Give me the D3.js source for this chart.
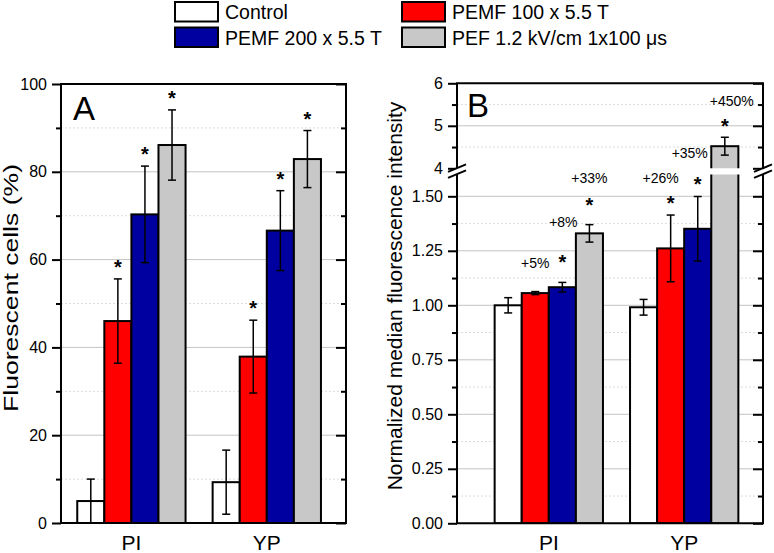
<!DOCTYPE html>
<html><head><meta charset="utf-8">
<script src="https://cdn.jsdelivr.net/npm/d3@7"></script>
<style>body{margin:0;background:#fff} svg{display:block} text{font-family:"Liberation Sans",Arial,sans-serif;fill:#000}</style>
</head><body><svg id="c" width="774" height="553"></svg>
<script>
// ---------------- data ----------------
const categories = ["PI", "YP"];
const seriesNames = ["Control", "PEMF 100 x 5.5 T", "PEMF 200 x 5.5 T", "PEF 1.2 kV/cm 1x100 μs"];
// Panel A: fluorescent cells (%)
const cellsPI = [5.0, 46.0, 70.3, 86.1];
const cellsPIErr = [5.0, 9.6, 11.0, 8.0];
const cellsYP = [9.3, 37.9, 66.6, 82.9];
const cellsYPErr = [7.3, 8.3, 9.1, 6.5];
const cellsStar = [[false, true, true, true], [false, true, true, true]];
// Panel B: normalized median fluorescence intensity
const mfiPI = [1.000, 1.056, 1.083, 1.330];
const mfiPIErr = [0.035, 0.007, 0.022, 0.040];
const mfiYP = [0.991, 1.261, 1.351, 4.52];
const mfiYPErr = [0.036, 0.153, 0.148, 0.21];
const mfiStar = [[false, false, true, true], [false, true, true, true]];
const mfiPct = [["", "+5%", "+8%", "+33%"], ["", "+26%", "+35%", "+450%"]];
// ticks
const yTicksA = [0, 20, 40, 60, 80, 100];
const yMinorA = [10, 30, 50, 70, 90];
const yTicksBLow = [0, 0.25, 0.5, 0.75, 1.0, 1.25, 1.5];
const yMinorBLow = [0.125, 0.375, 0.625, 0.875, 1.125, 1.375];
const yTicksBHigh = [4, 5, 6];
const yMinorBHigh = [4.5, 5.5];

// ---------------- style ----------------
const colors = ["#ffffff", "#ff0000", "#0000a0", "#c8c8c8"];
const gridMajor = "#c4c4c4", gridMinor = "#dcdcdc";
const svg = d3.select("#c");
const FONT_TICK = 16, FONT_TITLE = 21, FONT_STAR = 20, FONT_PCT = 14;

// ---------------- scales ----------------
const A = {left: 61, right: 346, top: 84, bottom: 523};
const B = {left: 457, right: 763, top: 83.3, bottom: 523.3, lowTop: 174.5, highBottom: 168.3};
const xA = d3.scaleLinear().domain([-0.52, 1.585]).range([A.left, A.right]);
const xB = d3.scaleLinear().domain([-0.678, 1.582]).range([B.left, B.right]);
const yA = d3.scaleLinear().domain([0, 100]).range([A.bottom, A.top]);
const yBL = d3.scaleLinear().domain([0, 1.6]).range([B.bottom, B.lowTop]);
const yBH = d3.scaleLinear().domain([4, 6]).range([B.highBottom, B.top]);
const barW = 0.2; // category units

function barX(x, g, i) { return x(g + (i - 2) * barW); }
function barPx(x) { return x(barW) - x(0); }

// ---------------- helpers ----------------
function grid(g, x0, x1, y, major, minor) {
  g.selectAll(null).data(minor).enter().append("line")
    .attr("x1", x0).attr("x2", x1).attr("y1", d => y(d)).attr("y2", d => y(d))
    .attr("stroke", gridMinor).attr("stroke-width", 1).attr("stroke-dasharray", "2,2");
  g.selectAll(null).data(major).enter().append("line")
    .attr("x1", x0).attr("x2", x1).attr("y1", d => y(d)).attr("y2", d => y(d))
    .attr("stroke", gridMajor).attr("stroke-width", 1);
}
function axes(g, x0, x1, y, major, minor, fmt) {
  const la = g.append("g").attr("transform", `translate(${x0},0)`)
    .call(d3.axisLeft(y).tickValues(major).tickFormat(fmt).tickSize(9).tickPadding(5));
  la.select(".domain").remove();
  la.selectAll("line").attr("stroke-width", 2);
  la.selectAll("text").attr("font-size", FONT_TICK).attr("font-family", '"Liberation Sans",Arial,sans-serif');
  const lm = g.append("g").attr("transform", `translate(${x0},0)`)
    .call(d3.axisLeft(y).tickValues(minor).tickFormat("").tickSize(5));
  lm.select(".domain").remove(); lm.selectAll("line").attr("stroke-width", 2);
  const ra = g.append("g").attr("transform", `translate(${x1},0)`)
    .call(d3.axisRight(y).tickValues(major).tickFormat("").tickSize(-10));
  ra.select(".domain").remove(); ra.selectAll("line").attr("stroke-width", 2);
  const rm = g.append("g").attr("transform", `translate(${x1},0)`)
    .call(d3.axisRight(y).tickValues(minor).tickFormat("").tickSize(-5));
  rm.select(".domain").remove(); rm.selectAll("line").attr("stroke-width", 2);
}
function errBar(g, cx, y0, y1) {
  g.append("line").attr("x1", cx).attr("x2", cx).attr("y1", y0).attr("y2", y1).attr("stroke", "#000").attr("stroke-width", 1.5);
  [y0, y1].forEach(yy => g.append("line").attr("x1", cx - 4).attr("x2", cx + 4).attr("y1", yy).attr("y2", yy).attr("stroke", "#000").attr("stroke-width", 1.5));
}
function star(g, cx, cy) {
  g.append("text").attr("x", cx).attr("y", cy + 0.58 * FONT_STAR).attr("text-anchor", "middle")
    .attr("font-size", FONT_STAR).attr("font-weight", "bold").text("*");
}

// ---------------- Panel A ----------------
const gA = svg.append("g");
grid(gA, A.left, A.right, yA, yTicksA.filter(d => d > 0 && d < 100), yMinorA);
const cellsVals = [cellsPI, cellsYP], cellsErrs = [cellsPIErr, cellsYPErr];
categories.forEach((c, g) => {
  const bw = barPx(xA);
  gA.selectAll(null).data(cellsVals[g]).enter().append("rect")
    .attr("x", (d, i) => barX(xA, g, i)).attr("width", bw)
    .attr("y", d => yA(d)).attr("height", d => yA(0) - yA(d))
    .attr("fill", (d, i) => colors[i]).attr("stroke", "#000").attr("stroke-width", 2);
  cellsVals[g].forEach((v, i) => {
    const cx = barX(xA, g, i) + bw / 2, e = cellsErrs[g][i];
    errBar(gA, cx, yA(v + e), yA(v - e));
    if (cellsStar[g][i]) star(gA, cx, yA(v + e) - 16.5);
  });
});
gA.append("rect").attr("x", A.left).attr("y", A.top).attr("width", A.right - A.left).attr("height", A.bottom - A.top)
  .attr("fill", "none").attr("stroke", "#000").attr("stroke-width", 2);
axes(gA, A.left, A.right, yA, yTicksA, yMinorA, d3.format("d"));
gA.append("text").attr("x", 73).attr("y", 120).attr("font-size", 33).text("A");
gA.append("text").attr("transform", `translate(18,288) rotate(-90)`).attr("text-anchor", "middle")
  .attr("font-size", FONT_TITLE).attr("textLength", 248).attr("lengthAdjust", "spacingAndGlyphs")
  .text("Fluorescent cells (%)");
categories.forEach((c, g) => gA.append("text").attr("x", xA(g)).attr("y", 550).attr("text-anchor", "middle")
  .attr("font-size", FONT_TITLE).text(c));

// ---------------- Panel B ----------------
const gB = svg.append("g");
const defs = svg.append("defs");
defs.append("clipPath").attr("id", "clipLow").append("rect")
  .attr("x", B.left).attr("y", B.lowTop).attr("width", B.right - B.left).attr("height", B.bottom - B.lowTop);
defs.append("clipPath").attr("id", "clipHigh").append("rect")
  .attr("x", B.left).attr("y", B.top).attr("width", B.right - B.left).attr("height", B.highBottom - B.top);
grid(gB, B.left, B.right, yBL, yTicksBLow.filter(d => d > 0), yMinorBLow);
grid(gB, B.left, B.right, yBH, [5], yMinorBHigh);
const mfiVals = [mfiPI, mfiYP], mfiErrs = [mfiPIErr, mfiYPErr];
const lowG = gB.append("g").attr("clip-path", "url(#clipLow)");
const highG = gB.append("g").attr("clip-path", "url(#clipHigh)");
const bwB = barPx(xB);
categories.forEach((c, g) => {
  mfiVals[g].forEach((v, i) => {
    const x = barX(xB, g, i);
    const yTop = v > 1.6 ? yBL(1.6) - 5 : yBL(v);
    lowG.append("rect").attr("x", x).attr("width", bwB).attr("y", yTop).attr("height", yBL(0) - yTop)
      .attr("fill", colors[i]).attr("stroke", "#000").attr("stroke-width", 2);
    if (v > 4) {
      highG.append("rect").attr("x", x).attr("width", bwB).attr("y", yBH(v)).attr("height", yBH(4) - yBH(v) + 5)
        .attr("fill", colors[i]).attr("stroke", "#000").attr("stroke-width", 2);
    }
  });
});
// error bars, stars and percentages
const pctLayout = [[null, {dx: 0, dy: -24}, {dx: 1, dy: -55.5}, {dx: 0, dy: -41.5}],
                   [null, {dx: -10, dy: -32}, {dx: -8, dy: -39}, {dx: 7, dy: -31.5}]];
const starLayout = [[0, 0, -25.4, -24.3], [0, -16.7, -16.7, -15.7]];
categories.forEach((c, g) => {
  mfiVals[g].forEach((v, i) => {
    const cx = barX(xB, g, i) + bwB / 2, e = mfiErrs[g][i];
    const ys = v > 4 ? yBH : yBL;
    errBar(gB, cx, ys(v + e), ys(v - e));
    const top = ys(v + e);
    if (mfiStar[g][i]) star(gB, cx, top + starLayout[g][i]);
    if (mfiPct[g][i]) {
      const L = pctLayout[g][i];
      gB.append("text").attr("x", cx + L.dx).attr("y", top + L.dy).attr("text-anchor", "middle")
        .attr("font-size", FONT_PCT).text(mfiPct[g][i]);
    }
  });
});
// frame (with break)
const fr = gB.append("g").attr("fill", "none").attr("stroke", "#000").attr("stroke-width", 2);
fr.append("line").attr("x1", B.left - 1).attr("x2", B.right + 1).attr("y1", B.top).attr("y2", B.top);
fr.append("line").attr("x1", B.left - 1).attr("x2", B.right + 1).attr("y1", B.bottom).attr("y2", B.bottom);
[B.left, B.right].forEach(x => {
  fr.append("line").attr("x1", x).attr("x2", x).attr("y1", B.top).attr("y2", B.highBottom);
  fr.append("line").attr("x1", x).attr("x2", x).attr("y1", B.lowTop).attr("y2", B.bottom);
});
axes(gB, B.left, B.right, yBL, yTicksBLow, yMinorBLow, d3.format(".2f"));
axes(gB, B.left, B.right, yBH, yTicksBHigh, yMinorBHigh, d3.format("d"));
// break marks
const brY = (B.highBottom + B.lowTop) / 2;
[B.left, B.right].forEach(x => {
  gB.append("polygon").attr("points", `${x - 9},${brY + 0.5} ${x + 9},${brY - 7} ${x + 9},${brY - 1} ${x - 9},${brY + 6.5}`)
    .attr("fill", "#fff").attr("stroke", "none");
  gB.append("line").attr("x1", x - 9).attr("y1", brY + 0.5).attr("x2", x + 9).attr("y2", brY - 7).attr("stroke", "#000").attr("stroke-width", 2);
  gB.append("line").attr("x1", x - 9).attr("y1", brY + 6.5).attr("x2", x + 9).attr("y2", brY - 1).attr("stroke", "#000").attr("stroke-width", 2);
});
gB.append("text").attr("x", 467).attr("y", 117).attr("font-size", 33).text("B");
gB.append("text").attr("transform", `translate(402,296) rotate(-90)`).attr("text-anchor", "middle")
  .attr("font-size", FONT_TITLE).text("Normalized median fluorescence intensity");
categories.forEach((c, g) => gB.append("text").attr("x", xB(g)).attr("y", 550).attr("text-anchor", "middle")
  .attr("font-size", FONT_TITLE).text(c));

// ---------------- legend ----------------
const legPos = [[175, 2], [402, 2], [175, 27.5], [402, 27.5]];
seriesNames.forEach((n, i) => {
  const [lx, ly] = legPos[i];
  svg.append("rect").attr("x", lx).attr("y", ly).attr("width", 43).attr("height", 19.5)
    .attr("fill", colors[i]).attr("stroke", "#000").attr("stroke-width", 2);
  svg.append("text").attr("x", lx + 50).attr("y", ly + 17).attr("font-size", 19.5).text(n);
});
</script></body></html>
